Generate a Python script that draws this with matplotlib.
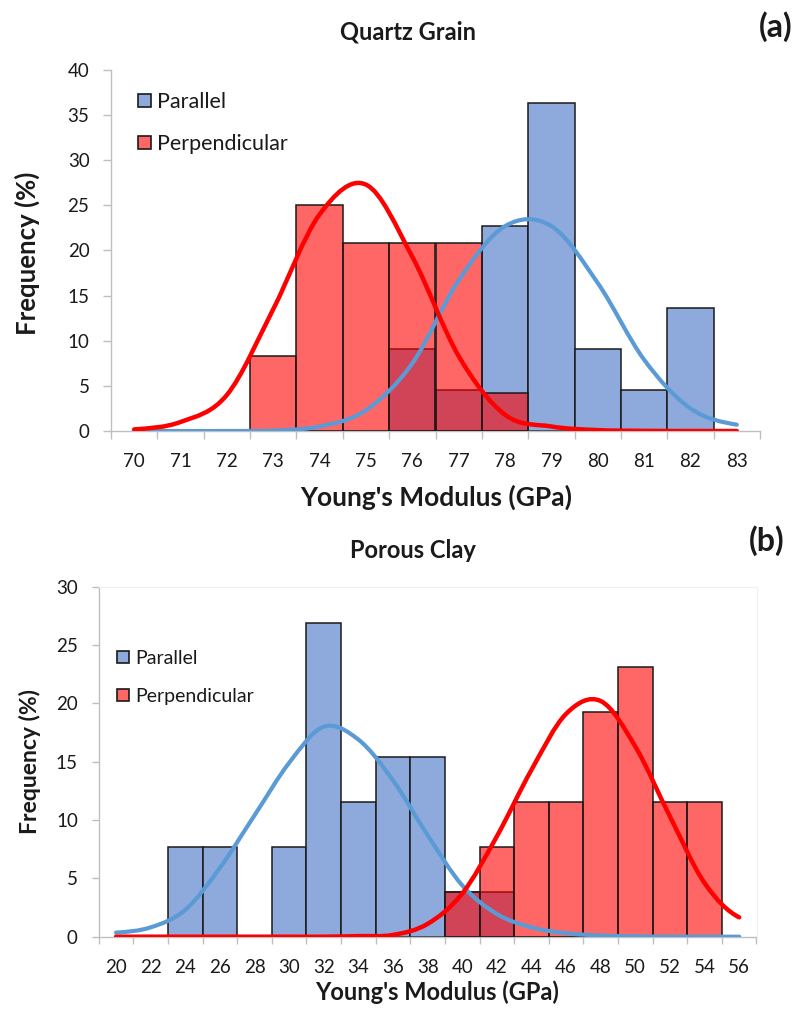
import numpy as np
import matplotlib.pyplot as plt
from matplotlib.path import Path
from matplotlib.patches import PathPatch, Patch

plt.rcParams['font.family'] = ['Lato', 'DejaVu Sans']

# (a) quartz grain: frequency (%) per 1 GPa bin
quartz_bins = [70, 71, 72, 73, 74, 75, 76, 77, 78, 79, 80, 81, 82, 83]
quartz_par = [0, 0, 0, 0, 0, 0, 9.09, 4.55, 22.73, 36.36, 9.09, 4.55, 13.64, 0]
quartz_perp = [0, 0, 0, 8.33, 25.0, 20.83, 20.83, 20.83, 4.17, 0, 0, 0, 0, 0]
quartz_par_fit = [0, 0, 0, 0.05, 0.5, 2.3, 7.5, 16.7, 22.7, 22.7, 16.4, 7.9, 2.5, 0.7]
quartz_perp_fit = [0.18, 1.0, 4.0, 13.5, 24.0, 27.3, 19.3, 8.3, 1.8, 0.5, 0.1, 0.02, 0, 0]

# (b) porous clay: frequency (%) per 2 GPa bin
clay_bins = [20, 22, 24, 26, 28, 30, 32, 34, 36, 38, 40, 42, 44, 46, 48, 50, 52, 54, 56]
clay_par = [0, 0, 7.69, 7.69, 0, 7.69, 26.92, 11.54, 15.38, 15.38, 3.85, 3.85,
            0, 0, 0, 0, 0, 0, 0]
clay_perp = [0, 0, 0, 0, 0, 0, 0, 0, 0, 0, 3.85, 7.69, 11.54, 11.54, 19.23, 23.08,
             11.54, 11.54, 0]
clay_par_fit = [0.35, 0.8, 2.3, 5.9, 10.4, 14.9, 18.0, 16.9, 13.4, 8.7, 4.4, 1.95,
                0.8, 0.3, 0.1, 0.03, 0, 0, 0]
clay_perp_fit = [0, 0, 0, 0, 0, 0, 0, 0.05, 0.15, 1.1, 3.7, 8.6, 14.3, 19.1, 20.2,
                 16.3, 10.3, 4.6, 1.66]

BLUE_BAR = '#8EA9DB'
RED_BAR = (1.0, 0.0, 0.0, 0.6)
BLUE_LINE = '#5B9BD5'
RED_LINE = '#FF0000'
AXIS_GRAY = '#BFBFBF'
TXT = '#1a1a1a'


def smooth_line(ax, x, y, color, lw):
    # excel-like smoothed line: catmull-rom segments as cubic beziers
    x = np.asarray(x, float)
    y = np.asarray(y, float)
    px = np.concatenate([[2 * x[0] - x[1]], x, [2 * x[-1] - x[-2]]])
    py = np.concatenate([[y[0]], y, [y[-1]]])
    verts = [(x[0], y[0])]
    codes = [Path.MOVETO]
    for i in range(1, len(px) - 2):
        c1 = (px[i] + (px[i + 1] - px[i - 1]) / 6, py[i] + (py[i + 1] - py[i - 1]) / 6)
        c2 = (px[i + 1] - (px[i + 2] - px[i]) / 6, py[i + 1] - (py[i + 2] - py[i]) / 6)
        verts += [c1, c2, (px[i + 1], py[i + 1])]
        codes += [Path.CURVE4] * 3
    ax.add_patch(PathPatch(Path(verts, codes), facecolor='none', edgecolor=color,
                           lw=lw, capstyle='round', zorder=5))


def panel(ax, bins, par, perp, par_fit, perp_fit, width, ymax, ystep, tick_len):
    bins = np.asarray(bins, float)
    par = np.asarray(par, float)
    perp = np.asarray(perp, float)
    m = par > 0
    ax.bar(bins[m], par[m], width=width, color=BLUE_BAR, edgecolor='#1a1a1a',
           linewidth=1.1, zorder=2)
    m = perp > 0
    ax.bar(bins[m], perp[m], width=width, color=RED_BAR, edgecolor='#1a1a1a',
           linewidth=1.1, zorder=3)
    smooth_line(ax, bins, par_fit, BLUE_LINE, 3.0)
    smooth_line(ax, bins, perp_fit, RED_LINE, 3.2)

    ax.set_xlim(bins[0] - width / 2, bins[-1] + width / 2)
    ax.set_ylim(0, ymax)
    ax.set_xticks(bins)
    ax.set_xticklabels([str(int(b)) for b in bins])
    ax.set_xticks(np.append(bins - width / 2, bins[-1] + width / 2), minor=True)
    ax.set_yticks(np.arange(0, ymax + 0.1, ystep))
    ax.tick_params(axis='x', which='major', length=0, pad=16, labelsize=13.5,
                   colors=TXT)
    ax.tick_params(axis='x', which='minor', length=tick_len, width=1, color=AXIS_GRAY)
    ax.tick_params(axis='y', length=tick_len, width=1, color=AXIS_GRAY, pad=10,
                   labelsize=13.5, labelcolor=TXT)
    for s in ('left', 'bottom'):
        ax.spines[s].set_color(AXIS_GRAY)
        ax.spines[s].set_linewidth(1)
    for s in ('top', 'right'):
        ax.spines[s].set_visible(False)
    ax.set_axisbelow(True)


def ftext(x, y, s, size, **kw):
    # place text by pixel position, measured from the top-left corner
    fig.text(x / 799, 1 - y / 1009, s, ha='center', va='center', fontsize=size,
             fontweight='bold', color=TXT, **kw)


fig = plt.figure(figsize=(7.99, 10.09), dpi=100)

ax1 = fig.add_axes([111 / 799, 1 - 431 / 1009, 649 / 799, 361 / 1009])
panel(ax1, quartz_bins, quartz_par, quartz_perp, quartz_par_fit, quartz_perp_fit,
      1, 40, 5, 5.5)
ftext(436, 497, "Young's Modulus (GPa)", 19)
ftext(27, 253, 'Frequency (%)', 18.5, rotation=90)
ftext(408, 32, 'Quartz Grain', 17)
ftext(776, 27, '(a)', 23)

ax2 = fig.add_axes([98.7 / 799, 1 - 936.7 / 1009, 657.8 / 799, 350 / 1009])
panel(ax2, clay_bins, clay_par, clay_perp, clay_par_fit, clay_perp_fit,
      2, 30, 5, 5)
ax2.spines['top'].set_visible(True)
ax2.spines['right'].set_visible(True)
ax2.spines['top'].set_color('#F0F0F0')
ax2.spines['right'].set_color('#F0F0F0')
ftext(437, 992, "Young's Modulus (GPa)", 17)
ftext(30, 761, 'Frequency (%)', 16.5, rotation=90)
ftext(413, 550, 'Porous Clay', 17)
ftext(767, 541, '(b)', 23)

handles = [Patch(facecolor=BLUE_BAR, edgecolor='#1a1a1a', linewidth=1.2),
           Patch(facecolor=RED_BAR, edgecolor='#1a1a1a', linewidth=1.2)]
fig.legend(handles, ['Parallel', 'Perpendicular'], loc='upper left',
           bbox_to_anchor=(138 / 799, 1 - 92 / 1009), frameon=False, fontsize=15.5,
           borderpad=0, borderaxespad=0, handlelength=0.6, handleheight=0.6,
           handletextpad=0.3, labelspacing=1.03, labelcolor=TXT)
fig.legend(handles, ['Parallel', 'Perpendicular'], loc='upper left',
           bbox_to_anchor=(117 / 799, 1 - 650 / 1009), frameon=False, fontsize=14,
           borderpad=0, borderaxespad=0, handlelength=0.62, handleheight=0.62,
           handletextpad=0.3, labelspacing=1.07, labelcolor=TXT)

fig.savefig('out.png', dpi=100)
